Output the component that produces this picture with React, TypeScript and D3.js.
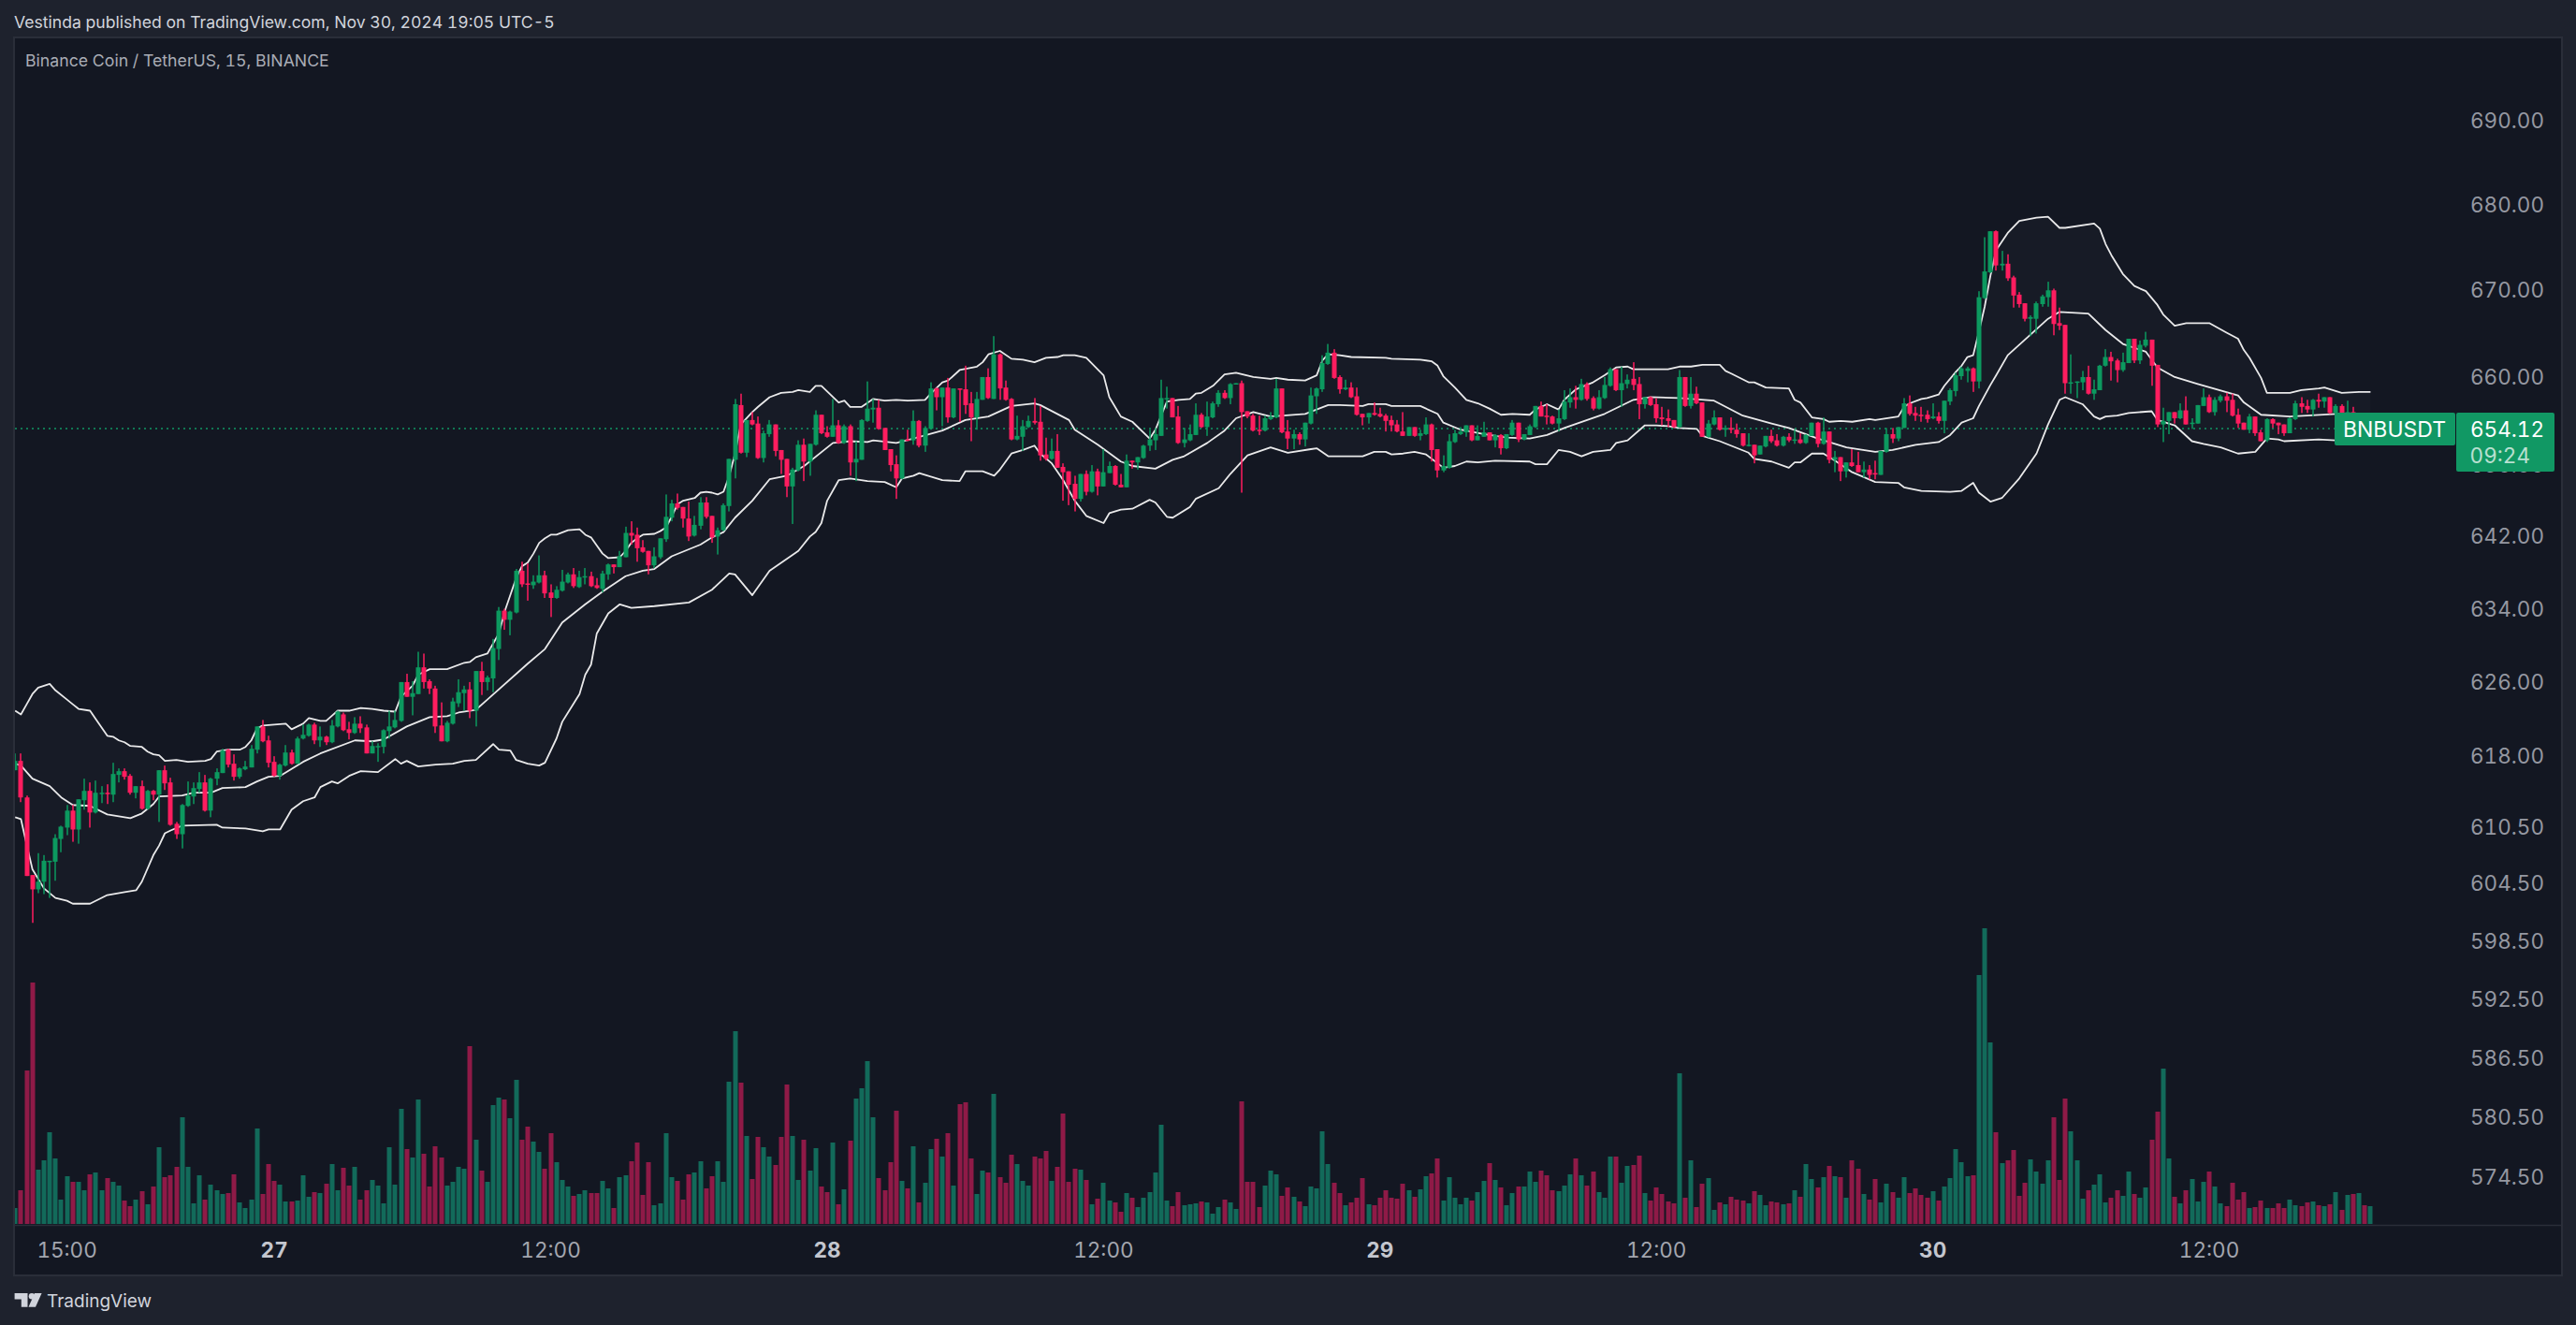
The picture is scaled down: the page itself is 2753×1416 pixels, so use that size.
import React, { useEffect, useRef } from "react";
import * as d3 from "d3";

// BNB / USDT 15 minute candles: [open, high, low, close]
const ohlc: number[][] = [
  [616.5,618.3,616.5,617.5],[617.5,618.3,613.1,613.6],[613.6,613.8,605.3,605.3],[605.4,605.4,600.4,603.9],[603.9,607.7,603.5,604.7],
  [604.7,607.5,603.4,606.9],[606.8,606.9,603,606.9],[606.8,609.7,604.8,609.3],[609.2,610.6,607.8,610.5],[610.4,612.8,609.6,612.2],
  [612.2,612.8,608.9,610.2],[610.2,613.4,608.7,613.4],[613.3,615.6,612.3,614.3],[614.3,615.2,610.4,612],[612,615.4,611.9,614.1],
  [614,614.8,613,614.1],[614.1,615,612.9,614],[613.9,617.3,613.1,616.1],[616,616.7,615.2,616.4],[616.4,616.7,615.5,615.8],
  [615.9,616.1,613.9,614.1],[614.1,614.8,613.5,614.8],[614.8,615.4,612.3,612.4],[612.4,614.4,612.3,614.3],[614.3,614.4,613.3,613.9],
  [613.9,616.5,611,616.5],[616.5,617,614.4,615.1],[615.2,615.7,610.6,610.7],[610.8,611,609.2,609.7],[609.7,612.9,608.2,612.8],
  [612.7,615.3,612.6,613.8],[613.7,615.2,612.9,614.6],[614.5,616.3,614.1,615.2],[615.2,616,612.1,612.2],[612.2,615.7,611.5,615.6],
  [615.6,616.7,614.9,616.3],[616.2,618.8,616.2,618.6],[618.7,618.8,616.8,617.1],[617.2,618.2,615.4,615.8],[615.8,616.8,615.6,616.7],
  [616.6,617.5,616.5,616.9],[616.8,619.2,616.8,618.8],[618.7,621.2,618.3,621.2],[621.2,621.9,619.5,619.6],[619.7,620.2,616.8,617.3],
  [617.4,618,615.8,615.9],[615.9,617.2,615.5,617.1],[617,619.2,616.9,618.4],[618.4,618.7,617.1,617.2],[617.2,620.1,617.2,619.9],
  [619.9,621.4,619.8,620.3],[620.2,621.5,620.1,621.4],[621.4,621.6,619.3,619.7],[619.7,621.2,619,620.1],[620.1,620.2,619.2,619.5],
  [619.5,621.9,619.4,621.3],[621.2,622.9,621.1,622.8],[622.5,622.7,620.7,620.8],[620.9,621.7,619.8,620.5],[620.5,622.2,620.4,621.5],
  [621.5,622.3,620.5,621],[621.1,621.4,618.3,618.3],[618.3,619.6,618.3,619.1],[619,619.4,617.4,619.1],[619,620.9,618.3,620.8],
  [620.7,622.9,619.9,621.2],[621.1,622.9,621,621.9],[621.8,626,621.7,626],[626,626.9,624.4,624.4],[624.4,626.1,622.4,624.8],
  [624.7,629.3,624.7,627.6],[627.6,629.1,625.3,626],[626.1,626.3,624.7,625.3],[625.3,625.6,620.5,621.2],[621.3,623.8,619.6,619.6],
  [619.6,621.8,619.5,621.6],[621.5,624.3,621.4,623.9],[623.7,626.3,623.3,624.9],[624.8,625.6,622.9,625.2],[625.2,626,622.1,622.9],
  [622.9,627.2,621.2,627.2],[627.2,628.2,624.6,626],[626,626.7,625.1,626.5],[626.4,630.7,624.9,629.7],[629.6,634.2,628.4,633.8],
  [633.8,634,631.7,632.8],[632.8,633.8,631.1,633.7],[633.6,638.4,633.5,638.2],[638.2,639.2,636.4,636.7],[636.8,639,634.9,636.7],
  [636.6,637.7,636.2,637],[636.9,639.9,636.8,637.7],[637.7,638.2,635.2,635.7],[635.8,636.7,633.1,635.2],[635.2,636.5,635.1,636.1],
  [636,638.3,635.9,637],[636.9,638,636.8,637.8],[637.8,638.5,636.3,636.5],[636.4,638.2,636.3,637.5],[637.5,638.5,636.7,637.6],
  [637.6,638.1,636.4,636.5],[636.6,637.4,636.2,636.3],[636.2,638.2,635.8,637.9],[637.8,639,637.2,638.9],[638.9,638.9,637.9,638.6],
  [638.6,640.4,638.6,639.8],[639.7,643.1,639.7,642.4],[642.4,643.7,641.1,642.1],[642.2,643,639.2,640.7],[640.8,641.6,640.2,640.3],
  [640.4,640.4,637.8,638.8],[638.8,640.8,638.5,639.8],[639.7,641.8,639.5,641.8],[641.7,646.7,641.4,644.2],[644.1,646.1,643.7,645.7],
  [645.7,646.8,645,645.2],[645.3,645.3,643,644],[644,645.9,641.5,642],[642.1,644.3,642,643.3],[643.2,646.4,642.8,645.8],
  [645.8,646.4,644,644.2],[644.3,644.3,641.3,641.9],[642,643,640,642.7],[642.7,645.7,642.6,645.5],[645.4,650.7,644.8,650.7],
  [650.6,657.5,648.5,656.9],[656.8,658.1,651.3,651.4],[651.4,655.1,650.9,655.1],[655.1,656,654.5,654.6],[654.7,655.5,650.7,650.8],
  [650.8,653.9,650.3,653.6],[653.5,655.1,653.2,654.6],[654.6,654.6,651,651.6],[651.7,651.7,649,650.6],[650.7,650.7,646.4,647.6],
  [647.6,649.7,643.4,649.5],[649.4,652.8,649.3,652.3],[652.3,653,648.2,650.4],[650.4,652.4,648.8,652.4],[652.3,656.2,652.2,655.7],
  [655.7,655.7,653.5,653.6],[653.7,654.4,653.1,653.2],[653.2,657.5,653.2,654.5],[654.5,655.1,652.4,652.5],[652.5,654.6,652.4,654.4],
  [654.4,654.6,648.8,650.3],[650.3,652.7,648.2,650.7],[650.6,655.2,650.6,655.1],[655,659.5,654.9,656.4],[656.3,657.5,654.8,656.5],
  [656.5,657.4,654,654.1],[654.2,654.2,651.7,651.7],[651.8,651.8,649.3,650],[650.1,651.1,646.2,648.5],[648.5,652.9,648.4,652.9],
  [652.9,654,652.7,652.8],[652.8,656.2,652.3,655],[655,655.1,652,652.2],[652.2,654.4,651.5,654.2],[654.1,659.4,654,658.7],
  [658.7,658.8,656.2,657.7],[657.7,658.8,654.4,658.8],[658.8,659.9,654.8,655.4],[655.4,658.7,655.3,658.7],[658.7,658.7,654.9,658.6],
  [658.6,661.3,655.8,656.8],[657,658.3,652.7,655.4],[655.4,658.3,654,657.5],[657.4,660,657.4,660],[660,661,657.5,657.6],
  [657.5,664.7,657.5,662.6],[662.6,662.7,657.4,658.7],[658.8,659.6,657.3,657.4],[657.5,657.6,652.8,652.9],[652.9,655.6,652.8,653.3],
  [653.2,655.1,651.6,654.4],[654.3,655.6,654.2,655],[655,657.6,654.6,654.8],[654.9,656.7,650.5,651.1],[651.2,653.1,650.5,650.7],
  [650.7,653,650.6,651.6],[651.6,653.5,649.7,649.7],[649.8,650.2,646,649.2],[649.3,649.3,645.5,647.8],[647.9,648.8,644.8,646.2],
  [646.2,649,645.9,649],[649,649.4,646.6,647],[647,650,646.9,649.3],[649.3,649.6,646.6,647.6],[647.6,651.8,647.6,649.2],
  [649.1,650.4,649.1,649.9],[649.9,650,647.7,647.8],[647.8,649,647.5,647.5],[647.5,651.2,647.5,650.5],[650.5,650.5,649.6,650.3],
  [650.3,650.9,649.5,650.9],[650.8,652.3,650.7,652.2],[652.2,654,651.6,652.9],[652.8,654.2,651.7,653.5],[653.3,659.7,653.3,657.6],
  [657.5,658.9,656.4,657.6],[657.6,657.6,655.4,655.4],[655.5,656.7,652.4,652.5],[652.5,654.2,652,652.9],[652.8,654.6,652.7,653.5],
  [653.4,657,653.4,655.7],[655.7,655.9,654.2,654.3],[654.3,657.2,653.3,655.5],[655.4,657.2,655.3,657],[656.9,658.5,656.6,658.2],
  [658.2,658.5,657.5,657.6],[657.6,659.3,656.9,659.2],[659.2,659.3,659.2,659.3],[659.3,659.6,646.9,656],[656.1,656.1,655.3,655.5],
  [655.6,655.8,653.8,653.9],[654,655.6,653.4,653.9],[653.9,655.6,653.8,655.3],[655.2,656,655.1,655.5],[655.4,659.8,655.3,658.7],
  [658.7,658.7,653.6,653.7],[653.8,655.1,651.8,653],[653,654,651.8,653.5],[653.5,653.7,652.3,652.9],[652.9,654.8,652.1,654.8],
  [654.7,658.8,654.6,657.9],[657.8,658.8,655.8,658.7],[658.6,662.5,658.3,661.6],[661.5,663.8,661.4,662.8],[662.8,663.2,659.8,659.9],
  [660,660.2,658.1,658.6],[658.6,659.7,658.5,658.8],[658.8,659.4,657.6,657.7],[657.8,658.8,655.6,655.7],[655.8,655.8,654.5,655.4],
  [655.4,655.9,654.7,655.9],[655.9,657.1,655.6,655.7],[655.8,656.5,655.4,655.5],[655.6,655.8,653.8,655],[655.1,655.6,653.8,654.5],
  [654.6,655.1,653.7,653.8],[653.8,656,653.3,653.3],[653.3,654.3,653.3,654.3],[654.3,654.3,653.2,653.3],[653.3,654,652.8,653.6],
  [653.5,655.4,653.4,654.6],[654.6,654.7,650.4,651.7],[651.8,651.8,648.6,649.4],[649.4,651.1,649.2,649.9],[649.7,653.5,649.6,652.7],
  [652.6,654,652.5,653.6],[653.5,654.3,653.4,653.8],[653.7,654.5,653.2,654.5],[654.5,654.5,652.7,652.8],[652.8,654.5,652.8,653.3],
  [653.2,654.9,653.2,653.7],[653.7,653.7,652.8,652.8],[652.8,653.5,652,653.4],[653.4,653.5,651.2,651.9],[651.9,653.5,651.8,653.5],
  [653.4,655.1,653.3,654.8],[654.8,654.8,652.6,652.9],[652.9,653.5,652.8,653.5],[653.4,654.6,653.4,654.4],[654.3,656.7,654.2,656.7],
  [656.7,657.2,655.5,655.5],[655.6,656.9,654.6,655.5],[655.5,655.6,654.6,654.7],[654.7,656.3,653.8,655.3],[655.2,658.5,655.1,657.2],
  [657.1,658.7,656.5,657.7],[657.7,659,656.4,657.4],[657.4,659.8,657.3,659.2],[659.2,659.4,657.3,657.5],[657.6,657.8,656.2,656.4],
  [656.4,658.5,656.3,657.7],[657.6,660,657.5,659.1],[659,661.1,658.9,660.9],[660.9,660.9,658.4,658.5],[658.5,661.2,656.6,659.3],
  [659.2,660.3,658.7,659.7],[659.8,661.7,658.5,659.1],[659.2,660,655.2,656.9],[656.9,657.7,656.4,657.7],[657.7,657.8,656.7,656.8],
  [656.9,657.6,654.8,655.3],[655.4,656.6,654.5,655.2],[655.3,656.3,654.3,655],[655.1,655.1,654.2,654.3],[654.3,660.8,654.2,660],
  [660,660,656.6,656.7],[656.7,660,656.4,658.1],[658.1,658.9,656.9,657],[657.1,657.1,653.2,653.2],[653.2,655.1,653.1,654.7],
  [654.6,656.2,654.5,655.4],[655.4,655.4,653.9,654],[654,654.5,653.2,654.2],[654.2,655.4,653.6,654],[654,654.7,653.1,653.5],
  [653.6,653.6,652.1,652.2],[652.2,653.6,652.1,652.3],[652.3,652.3,650.2,651.1],[651.2,652.2,651.2,652.2],[652.1,653.3,652,653.3],
  [653.3,654,652.5,652.7],[652.8,653.5,652.1,652.2],[652.2,653.3,652.1,653.2],[653.2,653.6,652.6,652.8],[652.8,654,652.4,652.9],
  [652.9,653.6,652.4,652.5],[652.5,653.5,652.4,653.4],[653.3,654.8,653.3,654.8],[654.8,654.9,652,652.4],[652.4,655.4,652.3,653.8],
  [653.8,653.8,650.2,650.6],[650.6,651.6,649.2,650.9],[650.9,650.9,648.2,649.3],[649.3,650.3,648.6,650.3],[650.3,651.8,649.8,649.9],
  [650,651.5,649.2,649.2],[649.2,650.4,648.6,649.5],[649.5,650,648.4,648.9],[649.1,650.5,648.4,649],[648.9,651.6,648.9,651.6],
  [651.5,654.2,651.4,653.5],[653.5,654.2,652.5,653],[653,654.3,652.7,654.3],[654.2,657.6,654.2,657],[657,657.9,655.6,655.8],
  [655.9,656.6,655,655.6],[655.7,656.6,654.9,655.6],[655.7,656.2,654.8,655.2],[655.3,657,655.2,655.5],[655.5,656,654.7,655],
  [655,657.3,653.6,657.3],[657.2,658.7,656.8,658.5],[658.4,660.5,657.8,660.2],[660.1,661.2,659.7,661],[660.7,661.2,659.4,661],
  [661,661.1,658.3,659.5],[659.5,669.9,658.7,669.2],[669.1,676.2,669,672.2],[672.1,676.9,672,676.9],[676.9,677,672.3,672.9],
  [672.9,674.6,672.3,673.1],[673.1,674.2,671.1,671.4],[671.5,671.7,668,669.4],[669.5,669.8,668,668.4],[668.5,668.5,666.4,666.7],
  [666.7,667.1,664.7,666.9],[666.7,668.7,665,668.5],[668.4,669.5,668.1,669.3],[669.2,671,668.1,670],[670,670.2,664.8,666.1],
  [666.2,668,665.4,665.9],[666,666,658.1,659.3],[659.3,662.6,658.1,659.4],[659.4,659.5,657.6,659.5],[659.4,660.7,658.5,660],
  [660,661.3,658,658.1],[658.1,659.7,657.4,658.6],[658.5,661.4,658.5,661.3],[661.3,663.2,661.2,662.3],[662.3,662.9,659.6,661.8],
  [661.9,662.1,659.4,660.8],[660.8,662.8,660.6,661.7],[661.6,664.4,661.6,664.4],[664.4,664.4,661.6,661.9],[661.9,664.2,661.5,663.7],
  [663.6,665.2,663.4,664.3],[664.3,664.3,659,661.3],[661.4,661.4,654.3,654.6],[654.6,656.5,652.6,655],[655,656,653.5,656],
  [656,656,654.7,655.3],[655.3,657,655.2,656.2],[656.2,657.8,654.6,654.6],[654.7,655.3,654.1,654.8],[654.7,656.8,654.7,656.8],
  [656.7,658.7,656.7,657.7],[657.7,658,655.9,656],[656,657.7,655.6,657.4],[657.3,658,657.1,657.8],[657.8,658.2,656,657.3],
  [657.4,658.1,655.5,655.6],[655.7,656.4,654.2,654.7],[654.8,654.8,654,654],[654,655.8,653.6,655.5],[655.5,655.5,653.3,653.6],
  [653.7,654,652.7,652.7],[652.8,655.3,652.6,655.2],[655.2,655.3,654.2,654.7],[654.8,654.8,653.5,654.5],[654.6,654.6,653.3,653.6],
  [653.6,655.4,653.6,655.3],[655.2,657.3,655.1,657],[657,657.7,655.9,656.6],[656.7,657.4,655.9,656.3],[656.3,657.5,655.5,657.4],
  [657.4,658.1,656.5,657.2],[657.2,657.7,656.5,657.7],[657.7,657.7,655.8,655.9],[655.9,656.9,655.5,656.7],[656.7,656.9,655.3,655.8],
  [655.8,657.3,655.3,656],[656,656.6,654.4,654.8],[654.8,655.6,654.3,655.2],[655.2,655.5,654,654.2],[654,654.9,653.9,654.12],
];

// volume per candle, in the picture's own arbitrary units
const volumes = [
  17,36,164,258,58,68,98,70,26,51,45,45,36,53,55,36,49,45,41,25,19,26,35,21,40,82,50,52,61,114,61,22,52,26,42,36,32,33,53,23,
  17,26,102,32,64,46,42,24,24,25,52,29,34,33,43,64,36,60,41,61,26,36,47,41,22,82,42,123,80,71,133,75,40,83,71,41,45,61,59,190,
  90,57,45,127,135,133,113,154,90,104,88,77,59,97,66,47,40,30,32,36,33,33,46,38,17,50,52,67,87,31,66,20,22,97,50,46,26,53,55,67,
  38,51,67,45,152,206,151,94,48,93,82,72,63,93,149,94,47,90,57,81,40,34,87,21,37,89,134,145,174,114,49,36,66,121,46,38,83,23,44,80,
  91,72,97,41,128,130,70,32,57,55,139,50,44,74,64,46,41,72,70,78,46,61,118,45,59,58,47,21,27,44,25,23,13,33,28,18,28,34,55,106,
  25,19,34,20,21,22,24,23,11,18,26,23,16,131,45,45,18,41,57,53,30,39,29,24,19,40,38,99,64,44,33,20,23,28,49,21,20,28,36,28,
  27,43,36,29,37,51,54,70,25,50,28,21,28,25,34,46,65,47,39,20,33,40,40,56,45,57,52,36,35,41,53,70,52,41,56,34,28,72,72,44,
  62,63,73,33,25,39,32,24,22,161,28,68,18,43,49,15,23,21,29,26,25,22,35,31,20,24,23,21,22,36,29,64,48,39,50,62,51,50,28,68,
  59,32,26,48,23,43,34,28,50,33,38,31,28,35,25,40,49,80,66,51,52,266,316,194,98,65,68,79,30,44,69,56,43,68,114,47,134,99,68,27,
  36,42,53,23,28,36,30,56,32,28,39,90,120,166,70,29,22,36,48,24,45,56,40,22,19,44,26,34,17,18,25,17,17,22,17,26,20,19,23,24,
  20,19,21,34,15,31,32,33,20,19,
];

// Bollinger bands: [candle index, price]
const upperBand: [number, number][] = [
  [0,622.9],[1,622.5],[2,623.6],[3,624.7],[4,625.4],[6,625.8],[7,625.1],[9,624.1],[10,623.6],[11,623.1],[13,622.9],[14,622],[16,620.2],[17,620.1],[18,619.7],[19,619.5],[20,619.1],[22,619],[23,618.5],[24,618.2],[25,618.1],[26,617.5],[28,617.6],[30,617.4],[33,617.5],[34,617.7],[35,618.5],[37,618.7],[39,618.7],[40,619],[41,619.7],[42,621],[43,621.3],[47,621.5],[48,620.9],[50,621.5],[51,622.1],[53,621.8],[54,621.8],[56,622.9],[58,622.9],[60,623.2],[62,623.1],[64,622.9],[66,622.8],[67,624.4],[69,625.6],[70,626.8],[72,627.4],[75,627.4],[78,628.1],[79,628.2],[80,628.7],[82,629.1],[84,631.3],[85,633.7],[87,637.4],[88,638.7],
  [89,639.1],[90,640.1],[91,641.3],[92,641.8],[93,642.2],[94,642.2],[96,642.7],[98,642.8],[99,642.2],[100,641.9],[101,641],[102,640.1],[103,639.6],[105,639.7],[106,640.4],[107,641.3],[108,641.8],[109,642.2],[111,642.3],[112,642.6],[113,643],[114,644.2],[115,645.6],[116,646],[118,646.3],[119,646.9],[120,647],[121,646.9],
  [122,646.7],[123,647],[124,648.8],[125,651.3],[126,654.6],[128,656],[129,656.6],[131,657.7],[133,658.2],[135,658.3],[136,658.5],[138,658.3],[139,659],[140,659],[143,657.1],[144,657.3],[145,656.6],[147,656.6],[149,657.5],[151,657.3],[153,657.4],[155,657.3],[158,657.4],[159,658.1],[161,659.4],[162,659.6],[164,660.8],[167,661.2],[168,661.7],[169,662.6],[171,663],[173,662.1],[175,662],[177,661.7],[179,662.2],[181,662.3],[182,662.5],[184,662.5],[186,662.2],[189,660.2],[190,657.7],[192,655.5],[194,654.9],[197,653],[198,654],[200,657.2],[202,657.4],[204,657.5],[205,658.1],[206,658.2],[208,659],[210,660.3],[212,660.5],[215,660],[218,659.8],[219,659.9],[221,659.7],[224,659.6],
  [226,660.2],[227,661.9],[228,662.6],[230,662.5],[232,662.3],[238,662.2],[239,662.1],[244,662],[246,661.8],[247,661.3],[248,660.1],[250,658.8],[252,657.4],[254,657],[256,656.4],[258,655.7],[260,655.8],[263,655.7],[264,656.3],[266,656.9],[268,656.3],[269,657.4],[271,658.6],[274,659.4],[276,660.2],[278,661.1],[280,661.2],[281,660.9],[287,660.9],[289,661.2],[291,661.2],[293,661.4],[296,661.4],[297,660.7],[298,660.4],[301,659.4],[302,659.4],[304,658.8],[308,658.7],[309,657.4],[310,657.1],[312,655.4],[314,655.2],[315,654.9],[317,655],[319,654.9],[322,655.2],[323,655.1],[327,655.5],[328,656.6],[329,657],[331,657.5],[332,657.6],[334,658],[335,659],[337,660.6],
  [338,661.3],[339,662.3],[340,662.5],[341,665.2],[342,668.1],[343,671.7],[344,674.7],[346,676.7],[348,678.1],[351,678.5],[353,678.6],[355,677.3],[356,677.3],[361,677.8],[362,677.2],[363,675.4],[364,674.1],[366,671.9],[368,670.5],[370,669.9],[372,668.3],[373,667.2],[375,665.9],[377,666.2],[381,666.2],[384,665.1],[386,664.4],[387,663.1],[388,662.2],[390,659.9],[391,658.2],[395,658.2],[397,658.5],[400,658.7],[401,658.8],[404,658.2],[407,658.3],[409,658.3],
];
const middleBand: [number, number][] = [
  [0,617.2],[1,617],[3,615.6],[6,614.8],[8,613.6],[10,612.8],[13,612.7],[16,611.8],[20,611.4],[22,611.9],[24,612.9],[25,613.7],[29,613.8],[31,614.1],[34,614.1],[36,614.6],[40,614.7],[42,615.3],[44,615.8],[46,615.9],[50,617.4],[53,618.3],[59,619.7],[62,619.6],[64,619.8],[68,621.2],[72,622.2],[75,622.3],[77,622.7],[80,623],[82,624.1],[89,628],[92,629.6],[95,632.5],[99,634.5],[102,635.9],[106,637.6],[109,638.2],[111,638.4],[114,639.8],[119,641.1],[121,641.9],
  [123,642.5],[125,644.1],[128,646],[131,648.4],[134,648.8],[137,649.9],[142,652.5],[145,652.7],[148,652.6],[149,652.8],[153,652.5],[156,653],[161,653.9],[165,655.1],[169,655.5],[173,656.7],[177,657],[178,656.8],[183,655.1],[184,654],[188,652.3],[192,650.4],[194,649.9],[198,649.6],[201,650.6],[203,651],[207,652.5],[210,653.9],[212,655.3],[215,656],[218,655.5],[224,655.8],
  [228,656.8],[230,656.8],[234,656.7],[235,656.9],[238,656.9],[239,656.7],[244,656.7],[247,655.8],[248,654.8],[251,654],[255,653.5],[259,653.1],[263,653],[266,653.4],[269,654.2],[276,655.8],[281,657.4],[284,657.7],[289,657.6],[295,657.3],[300,655.6],[305,654.7],[308,654.2],[313,653],[318,652],[323,651.5],[326,651.7],[330,652.3],[334,652.6],[336,653.4],[338,654.8],
  [340,655.3],[341,656.7],[343,659.1],[344,660.2],[346,662.5],[350,664.9],[353,666.7],[355,667.5],[360,667.3],[363,665.4],[366,663.8],[370,662.9],[372,661.1],[375,660],[379,659.2],[386,657.9],[387,657.1],[390,655.7],[395,655.5],[403,655.8],[409,655.8],
];
const lowerBand: [number, number][] = [
  [0,611.5],[1,611.3],[2,608.6],[3,606],[5,604],[7,603],[9,602.7],[10,602.4],[13,602.4],[16,603.3],[19,603.6],[21,603.8],[22,604.7],[24,607.5],[25,608.5],[26,609.8],[27,610.1],[29,610.6],[35,610.7],[36,610.4],[40,610.3],[43,610],[44,610.2],[46,610.2],[48,612.3],[50,613.2],[52,613.6],[53,614.7],[55,615.3],[56,615.1],[58,615.9],[60,616.4],[63,616.3],[66,617.7],[67,617.2],[68,617.5],[70,616.9],[73,617.1],[76,617.2],[78,617.5],[80,617.6],[83,619.3],[84,618.7],[86,618.6],[87,617.6],[89,617.2],[91,617],[92,617.3],[94,619.9],[95,621.7],[98,624.7],[99,626.8],[100,627.9],[101,631.3],[103,633.5],[105,634.5],[107,634.1],[111,634.3],
  [117,634.7],[121,636.1],[124,637.9],[125,637.8],[128,635.5],[131,638.2],[136,640.4],[138,642],[139,642.5],[140,643.5],[141,646],[143,648.3],[145,648.5],[148,648.2],[151,648.1],[153,647.5],[154,648.5],[156,648.8],[157,649.1],[161,648.3],[164,648.2],[165,649.3],[168,649.3],[170,648.8],[171,649.5],[173,651.3],[175,651.7],[177,652.2],[178,651.3],[180,650.2],[182,648.3],[184,646],[186,644.3],[189,643.5],[190,644.6],[192,645],[194,645.1],[197,646.1],[198,645.8],[200,644.2],[201,644.1],[204,645.3],[205,646.2],[209,647.4],[211,649],[214,651.1],[218,652],[221,651.4],[225,651.8],
  [226,651.9],[228,651],[234,651],[236,651.5],[238,651.5],[239,651.2],[241,651.3],[243,651.5],[245,651.2],[247,650.2],[248,649.7],[250,649.9],[252,650.4],[254,650.3],[257,650.5],[263,650.4],[264,650.1],[266,650.1],[268,651.7],[270,651.5],[272,651],[274,651.5],[277,651.7],[278,652.5],[280,652.8],[283,654.5],[285,654.5],[287,654.4],[289,654.2],[292,654.1],[293,653.3],[296,652.7],[301,651.4],[302,650.7],[305,650.4],[308,649.7],[309,650.3],[310,650.3],[312,651.3],[314,651.3],[316,650.5],[319,649.2],[323,648.1],[327,648],[328,647.5],[331,647.1],[336,647],
  [338,647.1],[340,648],[341,646.9],[343,645.9],[345,646.3],[348,648.5],[351,651.3],[353,654.6],[355,657.4],[356,657.7],[359,656.9],[361,655.5],[362,655.2],[363,655.5],[365,655.6],[367,655.9],[371,656.1],[372,655.1],[375,654.5],[378,652.7],[380,652.4],[383,652],[386,651.3],[389,651.5],[391,653],[393,652.9],[394,652.7],[400,652.9],[403,652.8],[409,652.8],
];

const priceTicks = [690, 680, 670, 660, 650, 642, 634, 626, 618, 610.5, 604.5, 598.5, 592.5, 586.5, 580.5, 574.5];
const timeTicks: { bar: number; label: string; day: boolean }[] = [
  { bar: 9, label: "15:00", day: false },
  { bar: 45, label: "27", day: true },
  { bar: 93, label: "12:00", day: false },
  { bar: 141, label: "28", day: true },
  { bar: 189, label: "12:00", day: false },
  { bar: 237, label: "29", day: true },
  { bar: 285, label: "12:00", day: false },
  { bar: 333, label: "30", day: true },
  { bar: 381, label: "12:00", day: false },
];
const lastPrice = 654.12;

const FONT = "Inter, 'Noto Sans', sans-serif";

export default function App() {
  const svgRef = useRef<SVGSVGElement>(null);

  useEffect(() => {
    const svg = d3.select(svgRef.current);
    svg.selectAll("*").remove();

    const width = 2753,
      height = 1416;
    const pane = { left: 16, right: 2737, top: 41, bottom: 1309, frameBottom: 1362 };

    svg.append("rect").attr("width", width).attr("height", height).attr("fill", "#1e222d");
    svg
      .append("rect")
      .attr("x", pane.left - 1)
      .attr("y", pane.top - 1)
      .attr("width", pane.right - pane.left + 2)
      .attr("height", pane.frameBottom - pane.top + 2)
      .attr("fill", "#131722")
      .attr("stroke", "#2a2e39")
      .attr("stroke-width", 2);

    svg
      .append("clipPath")
      .attr("id", "pane")
      .append("rect")
      .attr("x", pane.left)
      .attr("y", pane.top)
      .attr("width", pane.right - pane.left)
      .attr("height", pane.bottom - pane.top);

    const x = d3.scaleLinear().domain([0, 409]).range([16.2, 2533.4]);
    const y = d3.scaleLog().domain([690, 574.5]).range([129, 1258]);
    const yVol = d3.scaleLinear().domain([0, 316]).range([1308, 992]);

    const plot = svg.append("g").attr("clip-path", "url(#pane)");

    // volume
    plot
      .append("g")
      .selectAll("rect")
      .data(volumes)
      .join("rect")
      .attr("x", (_, i) => Math.round(x(i)) - 2.5)
      .attr("width", 5)
      .attr("y", (d) => yVol(d))
      .attr("height", (d) => yVol(0) - yVol(d))
      .attr("fill", (_, i) => (ohlc[i][3] >= ohlc[i][0] ? "#126a5a" : "#8f1a47"));

    // band fill + last price line
    const band = d3
      .line<[number, number]>()
      .x((d) => x(d[0]))
      .y((d) => y(d[1]));
    plot
      .append("path")
      .attr("d", band([...upperBand, ...[...lowerBand].reverse()]))
      .attr("fill", "#ffffff")
      .attr("opacity", 0.018);
    plot
      .append("line")
      .attr("x1", pane.left)
      .attr("x2", 2495)
      .attr("y1", y(lastPrice))
      .attr("y2", y(lastPrice))
      .attr("stroke", "#119864")
      .attr("stroke-width", 1.5)
      .attr("stroke-dasharray", "2 4");

    [upperBand, middleBand, lowerBand].forEach((b) => {
      plot
        .append("path")
        .attr("d", band(b))
        .attr("fill", "none")
        .attr("stroke", "#e9e9ea")
        .attr("stroke-width", 1.8)
        .attr("stroke-linejoin", "round");
    });

    // candles
    const candle = plot
      .append("g")
      .selectAll("g")
      .data(ohlc)
      .join("g")
      .attr("fill", (d) => (d[3] >= d[0] ? "#0c995f" : "#ff1d5f"));
    candle
      .append("rect")
      .attr("x", (_, i) => Math.round(x(i)) - 0.75)
      .attr("width", 1.5)
      .attr("y", (d) => y(d[1]))
      .attr("height", (d) => y(d[2]) - y(d[1]));
    candle
      .append("rect")
      .attr("x", (_, i) => Math.round(x(i)) - 2.5)
      .attr("width", 5)
      .attr("y", (d) => y(Math.max(d[0], d[3])))
      .attr("height", (d) => Math.max(1.5, Math.abs(y(d[0]) - y(d[3]))));

    // separator above the time scale
    svg
      .append("line")
      .attr("x1", pane.left)
      .attr("x2", pane.right)
      .attr("y1", pane.bottom + 0.5)
      .attr("y2", pane.bottom + 0.5)
      .attr("stroke", "#2a2e39")
      .attr("stroke-width", 1.5);

    const text = (s: string, tx: number, ty: number, size: number, fill: string) =>
      svg
        .append("text")
        .attr("x", tx)
        .attr("y", ty)
        .attr("dy", "0.36em")
        .attr("font-family", FONT)
        .attr("font-size", size)
        .attr("fill", fill)
        .style("font-feature-settings", "'tnum'")
        .text(s);

    // price axis
    const priceFormat = d3.format(".2f");
    priceTicks.forEach((p) => {
      text(priceFormat(p), 2719, y(p), 22.5, "#9598a1").attr("text-anchor", "end");
    });

    // time axis
    timeTicks.forEach((t) => {
      text(t.label, x(t.bar), 1336, 22.5, t.day ? "#c3c6ce" : "#a3a6af")
        .attr("text-anchor", "middle")
        .attr("font-weight", t.day ? 700 : 400);
    });

    // titles
    text("Vestinda published on TradingView.com, Nov 30, 2024 19:05 UTC-5", 15, 24, 17.6, "#d1d4dc");
    text("Binance Coin / TetherUS, 15, BINANCE", 27, 64.5, 17.7, "#a9acb5");

    // last price labels
    svg.append("rect").attr("x", 2495).attr("y", 441).attr("width", 129).attr("height", 35).attr("rx", 2).attr("fill", "#119864");
    svg.append("rect").attr("x", 2625).attr("y", 441).attr("width", 105).attr("height", 63).attr("rx", 2).attr("fill", "#119864");
    text("BNBUSDT", 2559, 459, 23, "#ffffff").attr("text-anchor", "middle");
    text(priceFormat(lastPrice), 2719, 459, 22.5, "#ffffff").attr("text-anchor", "end");
    text("09:24", 2704, 487, 22.5, "#ffffff").attr("text-anchor", "end").attr("opacity", 0.7);

    // footer logo
    const logo = svg.append("g").attr("fill", "#d1d4dc");
    logo.append("path").attr("d", "M15.6 1382H29.5V1396.7H22.8V1388.5H15.6Z");
    logo.append("circle").attr("cx", 34).attr("cy", 1385.2).attr("r", 3.3);
    logo.append("path").attr("d", "M44.6 1382L38 1396.7H30.5L37 1382Z");
    text("TradingView", 50, 1390.5, 19, "#d1d4dc");
  }, []);

  return (
    <svg
      ref={svgRef}
      width={2753}
      height={1416}
      style={{ position: "absolute", left: 0, top: 0, display: "block" }}
    />
  );
}
